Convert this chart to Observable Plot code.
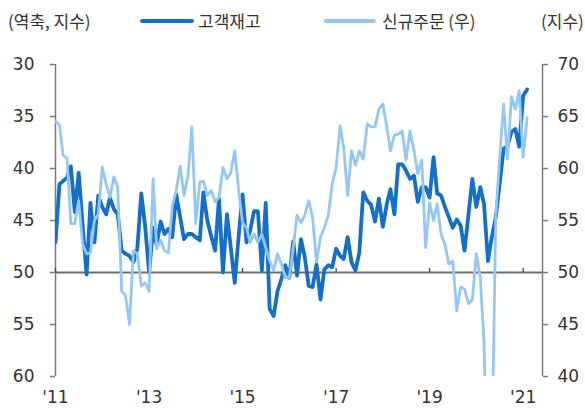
<!DOCTYPE html>
<html><head><meta charset="utf-8">
<script src="https://cdn.jsdelivr.net/npm/d3@7"></script>
<script src="https://cdn.jsdelivr.net/npm/@observablehq/plot@0.6"></script>
<style>
body{margin:0;background:#fff;}
#wrap{width:585px;height:408px;position:relative;background:#fff;font-family:"Noto Sans CJK KR",sans-serif;}
#legend{position:relative;width:585px;height:40px;font-size:17px;color:#333;}
#legend .t{position:absolute;top:9px;line-height:24px;white-space:nowrap;}
#legend .sw{position:absolute;border-radius:3px;}
#chart svg{display:block;}
</style>
</head><body>
<div id="wrap">
  <div id="legend"></div>
  <div id="chart"></div>
</div>
<script>
// 고객재고 (left axis, inverted), monthly from Jan 2011
const inventory = [
47.1,41.5,41.2,40.9,39.8,44.2,40.4,45.5,50.2,43.3,47.1,42.6,
43.7,44.4,42.8,43.9,44.4,47.9,48.2,48.4,49.0,47.7,42.4,45.5,
50.0,45.7,47.4,45.1,46.3,45.8,46.6,42.5,44.7,46.8,46.3,46.3,
46.6,46.9,42.3,45.0,46.5,47.9,42.9,50.0,44.4,47.6,51.0,46.6,
42.5,47.1,46.0,44.1,44.1,49.8,43.3,53.5,54.2,51.8,50.6,49.3,
50.5,47.0,50.3,46.8,48.5,51.3,51.4,49.2,52.6,49.7,49.3,49.5,
47.7,48.4,48.7,46.6,49.0,49.8,48.1,42.3,43.1,43.5,45.1,42.9,
45.6,43.4,42.0,44.4,39.6,39.6,40.2,41.0,40.7,43.2,41.8,41.8,
42.8,38.9,42.4,42.6,43.7,44.7,45.7,44.9,45.5,47.9,44.4,41.0,
43.7,41.8,43.4,48.9,46.6,44.7,41.5,38.1,37.8,36.5,36.2,37.9,
33.0,32.4
];
// 신규주문 (right axis), monthly from Jan 2011
const newOrders = [
64.5,64.2,61.3,61.0,54.7,54.7,56.9,52.7,51.8,51.9,55.0,55.6,
60.1,58.5,57.2,59.2,58.2,48.2,47.8,45.0,52.1,51.8,48.7,49.0,
48.2,59.0,52.3,53.1,52.1,51.9,56.4,57.9,60.2,57.4,59.3,64.0,
54.7,58.7,58.8,57.4,57.9,56.8,57.2,60.1,59.0,59.6,61.7,58.0,
54.8,54.3,52.9,53.7,52.9,53.7,52.4,51.1,50.2,51.8,50.8,49.5,
49.5,52.4,55.5,54.8,55.5,56.9,55.3,51.0,53.4,54.3,55.5,58.5,
60.1,64.1,62.0,57.4,61.7,60.3,61.7,60.9,64.3,64.0,64.0,65.7,
66.2,64.0,61.7,63.2,63.3,63.6,60.8,63.6,61.7,59.5,60.8,52.4,
56.7,55.0,56.6,53.7,52.7,50.8,51.1,46.3,48.6,48.4,47.0,47.4,
51.8,49.5,43.3,27.1,31.8,55.5,61.0,66.2,60.9,66.9,65.7,67.5,
61.1,64.9
];
const leftTicks = [30,35,40,45,50,55,60];
const xTickYears = [2011,2013,2015,2017,2019,2021];
const seriesNames = ["고객재고","신규주문 (우)"];
const leftUnit = "(역축, 지수)";
const rightUnit = "(지수)";

const colDark = "#136fc8";
const colLight = "#94c7f5";

// legend
const lg = document.getElementById("legend");
function addText(txt, left){const s=document.createElement("span");s.className="t";s.textContent=txt;s.style.left=left+"px";lg.appendChild(s);}
function addSw(left,w,h,c){const d=document.createElement("div");d.className="sw";d.style.left=left+"px";d.style.width=w+"px";d.style.height=h+"px";d.style.top=(21-h/2)+"px";d.style.background=c;lg.appendChild(d);}
addText(leftUnit, 8);
addSw(140,54,4.5,colDark);
addText(seriesNames[0], 198);
addSw(324,52,3.5,colLight);
addText(seriesNames[1], 382);
addText(rightUnit, 541);

const dates = inventory.map((_, i) => new Date(Date.UTC(2011, i, 1)));
const invData = inventory.map((v, i) => ({date: dates[i], v}));
// right axis maps 70..40 onto left 30..60: left = 100 - right
const ordData = newOrders.map((v, i) => ({date: dates[i], v: 100 - v}));
const xDomain = [new Date(Date.UTC(2011,0,1)), new Date(Date.UTC(2021,5,1))];
const xTicks = xTickYears.map(y => new Date(Date.UTC(y,0,1)));

const plot = Plot.plot({
  width: 585, height: 368,
  marginTop: 24, marginBottom: 32, marginLeft: 55, marginRight: 43,
  style: {fontFamily: "DejaVu Sans", fontSize: "17px", color: "#333", background: "#fff"},
  x: {type: "utc", domain: xDomain},
  y: {domain: [30, 60], reverse: true},
  marks: [
    Plot.ruleY([50], {stroke: "#6e6e6e", strokeWidth: 2}),
    Plot.ruleX(xDomain, {stroke: "#7a7a7a", strokeWidth: 1.5}),
    Plot.ruleX(xTicks, {y1: d => 50, y2: d => 50, insetTop: -4, stroke: "#444", strokeWidth: 1.3}),
    Plot.axisY({anchor: "left", ticks: leftTicks, tickSize: 5, tickPadding: 16, stroke: "#7a7a7a", strokeWidth: 1.5, fill: "#333", label: null}),
    Plot.axisY({anchor: "right", ticks: leftTicks, tickSize: 5, tickPadding: 10, tickFormat: d => 100 - d, stroke: "#7a7a7a", strokeWidth: 1.5, fill: "#333", label: null}),
    Plot.axisX({anchor: "bottom", ticks: xTicks, tickSize: 0, tickPadding: 14, tickFormat: d => "'" + String(d.getUTCFullYear()).slice(2), fill: "#333", label: null}),
    Plot.lineY(invData, {x: "date", y: "v", stroke: colDark, strokeWidth: 3.8, clip: true}),
    Plot.lineY(ordData, {x: "date", y: "v", stroke: colLight, strokeWidth: 2.8, clip: true})
  ]
});
document.getElementById("chart").appendChild(plot);
</script>
</body></html>
